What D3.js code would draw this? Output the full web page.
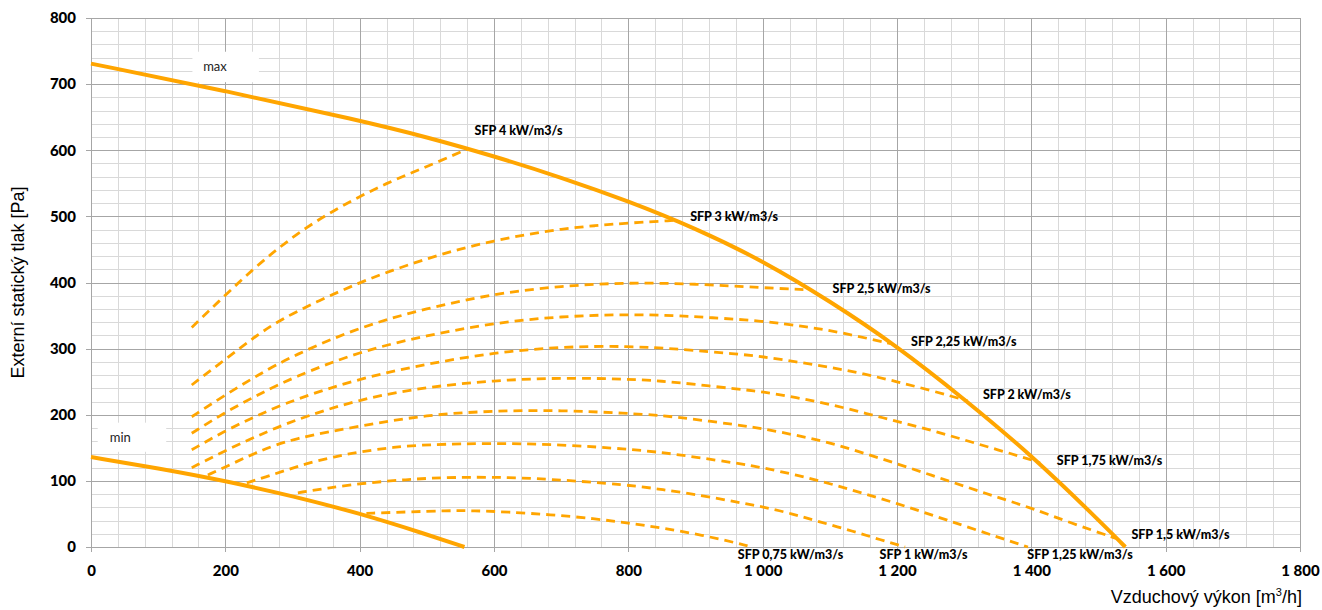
<!DOCTYPE html>
<html><head><meta charset="utf-8">
<script src="https://cdn.jsdelivr.net/npm/d3@7"></script>
<style>body{margin:0;background:#fff}svg{display:block}</style>
</head><body><svg id="c" width="1322" height="610"></svg>
<script>
// ---------- data ----------
const xTicks = [0,200,400,600,800,1000,1200,1400,1600,1800];
const yTicks = [0,100,200,300,400,500,600,700,800];
const xTitle = "Vzduchový výkon [m";
const yTitle = "Externí statický tlak [Pa]";

const maxCurve = [[0,731],[200,690],[400,645],[500,620],[600,591],[700,559],[800,523],[900,482],[1000,433],[1100,372],[1200,304],[1300,224],[1400,139],[1500,41],[1540,0]];
const minCurve = [[0,136],[100,119],[200,100],[300,77],[400,51],[500,19],[556,0]];

const sfp4   = [[150,332],[200,381],[240,419],[280,453],[320,483],[360,508],[400,530],[440,550],[480,567],[520,584],[561,602]];
const sfp3   = [[150,245],[200,284],[240,315],[280,343],[340,373],[400,400],[450,419],[500,436],[550,451],[600,463],[650,473],[700,481],[750,486],[800,490],[870,494]];
const sfp25  = [[150,197],[200,230],[250,261],[300,289],[400,333],[500,361],[600,383],[700,395],[800,400],[900,398],[1000,392],[1066,389]];
const sfp225 = [[150,172],[200,204],[250,231],[300,256],[400,296],[500,320],[600,339],[700,349],[800,352],[870,350],[920,347],[1000,342],[1065,333],[1115,325],[1193,307]];
const sfp2   = [[150,147],[200,176],[250,200],[300,222],[400,255],[500,277],[600,294],[700,303],[800,304],[880,299],[960,292],[1000,288],[1050,280],[1100,272],[1150,262],[1200,250],[1250,237],[1305,221]];
const sfp175 = [[150,120],[200,146],[250,169],[300,191],[400,224],[500,242],[600,252],[700,256],[800,254],[850,251],[900,246],[960,239],[1000,235],[1050,226],[1100,216],[1150,203],[1200,190],[1250,177],[1300,162],[1350,147],[1400,132],[1413,127]];
const sfp15  = [[174,109],[200,121],[250,145],[300,164],[400,183],[500,200],[600,206],[700,207],[800,202],[850,199],[900,193],[960,185],[1000,179],[1050,169],[1100,158],[1150,142],[1200,126],[1250,109],[1300,92],[1350,75],[1400,59],[1457,37],[1526,13]];
const sfp125 = [[232,97],[260,106],[290,116],[320,126],[360,136],[400,144],[450,151],[500,155],[600,157],[700,155],[800,148],[850,143],[900,136],[960,127],[1000,120],[1050,109],[1100,96],[1150,81],[1200,66],[1250,49],[1300,32],[1350,15],[1395,0]];
const sfp1   = [[308,82],[350,89],[410,97],[470,102],[520,105],[600,106],[680,103],[800,94],[850,87],[910,78],[960,68],[1000,61],[1045,50],[1085,38],[1134,24],[1175,11],[1212,0]];
const sfp075 = [[410,51],[470,53],[530,55],[570,55],[620,53],[683,49],[750,43],[800,36],[850,29],[910,18],[966,5],[983,0]];

const sfpCurves = [sfp4, sfp3, sfp25, sfp225, sfp2, sfp175, sfp15, sfp125, sfp1, sfp075];
const sfpNames  = ["SFP 4 kW/m3/s","SFP 3 kW/m3/s","SFP 2,5 kW/m3/s","SFP 2,25 kW/m3/s","SFP 2 kW/m3/s","SFP 1,75 kW/m3/s","SFP 1,5 kW/m3/s","SFP 1,25 kW/m3/s","SFP 1 kW/m3/s","SFP 0,75 kW/m3/s"];
// label anchor (left edge x, vertical centre y) in data units
const sfpLabelX = [571, 892, 1104, 1221, 1328, 1438, 1549, 1394, 1174, 963];
const sfpLabelY = [630, 500, 391, 310, 230, 130, 18, -12, -12, -12];

const boxNames = ["max","min"];
const boxX0 = [151, 10];
const boxX1 = [250, 112];
const boxY0 = [703, 144];
const boxY1 = [749, 188];
const boxTextX = [167, 28];

// ---------- drawing ----------
const svg = d3.select("#c");
const x = d3.scaleLinear().domain([0,1800]).range([91,1300]);
const y = d3.scaleLinear().domain([0,800]).range([547,18]);
const ORANGE = "#FFA500";
const fmt = d => d3.format(",")(d).replace(/,/g, "\u00a0");

svg.append("rect").attr("width",1322).attr("height",610).attr("fill","#fff");

const grid = svg.append("g").attr("shape-rendering","crispEdges");
grid.selectAll(".mx").data(d3.range(0,1801,40).filter(v=>v%200)).join("line")
  .attr("x1",d=>Math.round(x(d))+0.5).attr("x2",d=>Math.round(x(d))+0.5)
  .attr("y1",y(800)).attr("y2",y(0)).attr("stroke","#d9d9d9");
grid.selectAll(".my").data(d3.range(0,801,20).filter(v=>v%100)).join("line")
  .attr("y1",d=>Math.round(y(d))+0.5).attr("y2",d=>Math.round(y(d))+0.5)
  .attr("x1",x(0)).attr("x2",x(1800)).attr("stroke","#d9d9d9");
grid.selectAll(".Mx").data(xTicks.slice(1)).join("line")
  .attr("x1",d=>Math.round(x(d))+0.5).attr("x2",d=>Math.round(x(d))+0.5)
  .attr("y1",y(800)).attr("y2",y(0)).attr("stroke","#a6a6a6");
grid.selectAll(".My").data(yTicks.slice(1)).join("line")
  .attr("y1",d=>Math.round(y(d))+0.5).attr("y2",d=>Math.round(y(d))+0.5)
  .attr("x1",x(0)).attr("x2",x(1800)).attr("stroke","#a6a6a6");

const tickFont = "Lato, 'Open Sans', sans-serif";
const xAxis = svg.append("g").attr("transform",`translate(0,${y(0)})`)
  .call(d3.axisBottom(x).tickValues(xTicks).tickFormat(fmt).tickSize(5).tickPadding(13));
const yAxis = svg.append("g").attr("transform",`translate(${x(0)},0)`)
  .call(d3.axisLeft(y).tickValues(yTicks).tickFormat(fmt).tickSize(5).tickPadding(10));
[xAxis,yAxis].forEach(a=>{
  a.selectAll("path,line").attr("stroke","#a6a6a6").attr("shape-rendering","crispEdges");
  a.selectAll("text").attr("font-family",tickFont).attr("font-weight","900")
    .attr("font-size","15px").attr("fill","#000");
});

boxNames.forEach((n,i)=>{
  svg.append("rect").attr("x",x(boxX0[i])).attr("y",y(boxY1[i]))
    .attr("width",x(boxX1[i])-x(boxX0[i])).attr("height",y(boxY0[i])-y(boxY1[i]))
    .attr("fill","#fff");
  svg.append("text").attr("x",x(boxTextX[i])).attr("y",y((boxY0[i]+boxY1[i])/2))
    .attr("dy","0.35em").attr("font-family",tickFont).attr("font-size","13px")
    .attr("fill","#222").text(n);
});

const line = d3.line().x(d=>x(d[0])).y(d=>y(d[1])).curve(d3.curveBasis);

svg.append("g").selectAll("path").data(sfpCurves).join("path")
  .attr("d",line).attr("fill","none").attr("stroke",ORANGE)
  .attr("stroke-width",2.8).attr("stroke-dasharray","9,6");

svg.append("path").datum(maxCurve).attr("d",line).attr("fill","none")
  .attr("stroke",ORANGE).attr("stroke-width",4);
svg.append("path").datum(minCurve).attr("d",line).attr("fill","none")
  .attr("stroke",ORANGE).attr("stroke-width",4);

svg.append("g").selectAll("text").data(sfpNames).join("text")
  .attr("x",(d,i)=>x(sfpLabelX[i])).attr("y",(d,i)=>y(sfpLabelY[i]))
  .attr("dy","0.35em").attr("font-family",tickFont).attr("font-weight","900")
  .attr("font-size","12.5px").attr("fill","#000").text(d=>d);

const tfont = "'Liberation Sans', Arial, sans-serif";
const xt = svg.append("text").attr("x",x(1800)+2).attr("y",603)
  .attr("text-anchor","end").attr("font-family",tfont).attr("font-size","18px").attr("fill","#000");
xt.append("tspan").text(xTitle);
xt.append("tspan").attr("font-size","11px").attr("dy","-7").text("3");
xt.append("tspan").attr("dy","7").text("/h]");

svg.append("text").attr("transform",`translate(24,${(y(0)+y(800))/2}) rotate(-90)`)
  .attr("text-anchor","middle").attr("font-family",tfont).attr("font-size","18px")
  .attr("fill","#000").text(yTitle);
</script></body></html>
